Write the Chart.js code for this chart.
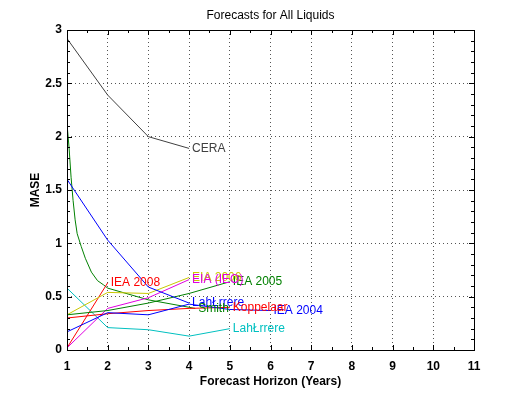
<!DOCTYPE html>
<html>
<head>
<meta charset="utf-8">
<script src="https://cdn.jsdelivr.net/npm/chart.js@4/dist/chart.umd.min.js"></script>
<style>
  html, body { margin: 0; padding: 0; background: #fff; }
  #wrap { width: 524px; height: 394px; }
</style>
</head>
<body>
<div id="wrap"><canvas id="c" width="524" height="394"></canvas></div>
<script>
// ---- Data ----
const ceraX = [1, 2, 3, 4];
const ceraY = [2.92, 2.39, 2.0, 1.89];

const smithX = [1, 1.05, 1.1, 1.15, 1.2, 1.25, 1.35, 1.45, 1.6, 1.75, 1.9, 2, 3, 4.15];
const smithY = [2.12, 1.9, 1.62, 1.40, 1.22, 1.09, 0.97, 0.86, 0.73, 0.65, 0.61, 0.58, 0.47, 0.39];

const laherrereX = [1, 2, 3, 4];
const laherrereY = [1.6, 1.03, 0.59, 0.44];

const iea2004X = [1, 2, 3, 4, 5, 6];
const iea2004Y = [0.17, 0.35, 0.33, 0.43, 0.38, 0.37];

const koppelaarX = [1, 2, 3, 4, 5];
const koppelaarY = [0.30, 0.34, 0.37, 0.39, 0.40];

const iea2008X = [1, 2];
const iea2008Y = [0.02, 0.63];

const eiaIeoX = [1, 2, 3, 4];
const eiaIeoY = [0.02, 0.39, 0.49, 0.66];

const eia2006X = [1, 2, 3, 4];
const eia2006Y = [0.33, 0.54, 0.53, 0.68];

const iea2005X = [1, 2, 3, 4, 5];
const iea2005Y = [0.33, 0.37, 0.44, 0.53, 0.64];

const laherrere2X = [1, 2, 3, 4, 5];
const laherrere2Y = [0.58, 0.21, 0.19, 0.13, 0.20];

const xTicks = [1, 2, 3, 4, 5, 6, 7, 8, 9, 10, 11];
const yTicks = [0, 0.5, 1, 1.5, 2, 2.5, 3];

function pts(xs, ys) { return xs.map((x, i) => ({ x: x, y: ys[i] })); }

const seriesDefs = [
  { label: 'CERA', x: ceraX, y: ceraY, color: '#404040' },
  { label: 'Laherrere', x: laherrereX, y: laherrereY, color: '#0000ff', text: 'LahŁrrere' },
  { label: 'IEA 2004', x: iea2004X, y: iea2004Y, color: '#0000ff' },
  { label: 'Koppelaar', x: koppelaarX, y: koppelaarY, color: '#ff0000' },
  { label: 'IEA 2005', x: iea2005X, y: iea2005Y, color: '#008000' },
  { label: 'EIA 2006', x: eia2006X, y: eia2006Y, color: '#c8c800' },
  { label: 'EIA (IEO)', x: eiaIeoX, y: eiaIeoY, color: '#e000e0' },
  { label: 'IEA 2008', x: iea2008X, y: iea2008Y, color: '#ff0000' },
  { label: 'Smith', x: smithX, y: smithY, color: '#008000' },
  { label: 'Laherrere ', x: laherrere2X, y: laherrere2Y, color: '#00c0c0', text: 'LahŁrrere' }
];

const datasets = seriesDefs.map(s => ({
  label: s.label,
  endText: s.text || s.label.trim(),
  data: pts(s.x, s.y),
  borderColor: s.color,
  backgroundColor: s.color,
  borderWidth: 1,
  pointRadius: 0,
  tension: 0,
  fill: false
}));

// Frame, inward ticks and end-of-line labels
const decor = {
  id: 'decor',
  afterDatasetsDraw(chart) {
    const ctx = chart.ctx;
    const a = chart.chartArea;
    const xs = chart.scales.x, ys = chart.scales.y;
    ctx.save();
    ctx.strokeStyle = '#000';
    ctx.lineWidth = 1;
    ctx.setLineDash([]);
    ctx.beginPath();
    for (let i = 0; i < xTicks.length; i++) {
      const px = Math.round(xs.getPixelForValue(xTicks[i])) + 0.5;
      ctx.moveTo(px, a.bottom); ctx.lineTo(px, a.bottom - 5);
      ctx.moveTo(px, a.top); ctx.lineTo(px, a.top + 5);
      if (i < xTicks.length - 1) {
        const m = Math.round(xs.getPixelForValue((xTicks[i] + xTicks[i + 1]) / 2)) + 0.5;
        ctx.moveTo(m, a.bottom); ctx.lineTo(m, a.bottom - 3);
        ctx.moveTo(m, a.top); ctx.lineTo(m, a.top + 3);
      }
    }
    for (let i = 0; i < yTicks.length; i++) {
      const py = Math.round(ys.getPixelForValue(yTicks[i])) + 0.5;
      ctx.moveTo(a.left, py); ctx.lineTo(a.left + 5, py);
      ctx.moveTo(a.right, py); ctx.lineTo(a.right - 5, py);
      if (i < yTicks.length - 1) {
        const step = (yTicks[i + 1] - yTicks[i]) / 5;
        for (let k = 1; k < 5; k++) {
          const m = Math.round(ys.getPixelForValue(yTicks[i] + k * step)) + 0.5;
          ctx.moveTo(a.left, m); ctx.lineTo(a.left + 3, m);
          ctx.moveTo(a.right, m); ctx.lineTo(a.right - 3, m);
        }
      }
    }
    ctx.stroke();
    ctx.strokeRect(Math.round(a.left) + 0.5, Math.round(a.top) + 0.5,
                   Math.round(a.right - a.left), Math.round(a.bottom - a.top));

    ctx.font = '12px "Liberation Sans", Arial, sans-serif';
    ctx.textBaseline = 'middle';
    ctx.textAlign = 'left';
    chart.data.datasets.forEach(ds => {
      const last = ds.data[ds.data.length - 1];
      const px = xs.getPixelForValue(last.x);
      const py = ys.getPixelForValue(last.y);
      ctx.fillStyle = ds.borderColor;
      ctx.fillText(ds.endText, px + 3, py);
    });
    ctx.restore();
  }
};

const fontFam = '"Liberation Sans", Arial, sans-serif';

new Chart(document.getElementById('c'), {
  type: 'line',
  data: { datasets: datasets },
  options: {
    responsive: false,
    animation: false,
    devicePixelRatio: 1,
    layout: { padding: { left: 0, right: 50, top: 0, bottom: 0 } },
    plugins: {
      legend: { display: false },
      tooltip: { enabled: false },
      title: {
        display: true,
        fullSize: false,
        text: 'Forecasts for All Liquids',
        color: '#000',
        font: { family: fontFam, size: 12, weight: 'normal' },
        padding: { top: 8, bottom: 7.6 }
      }
    },
    scales: {
      x: {
        type: 'linear',
        min: 1, max: 11,
        afterFit(scale) { scale.height = 44; },
        ticks: {
          stepSize: 1,
          padding: 9,
          color: '#000',
          callback: v => String(v),
          font: { family: fontFam, size: 12, weight: 'bold' }
        },
        grid: { color: '#555', drawTicks: false, tickLength: 0 },
        border: { display: false, dash: [1, 3] },
        title: {
          display: true,
          text: 'Forecast Horizon (Years)',
          color: '#000',
          font: { family: fontFam, size: 12, weight: 'bold' },
          padding: { top: 0, bottom: 5 }
        }
      },
      y: {
        type: 'linear',
        min: 0, max: 3,
        afterFit(scale) { scale.width = 67; },
        ticks: {
          stepSize: 0.5,
          padding: 5,
          color: '#000',
          callback: v => String(v),
          font: { family: fontFam, size: 12, weight: 'bold' }
        },
        grid: { color: '#555', drawTicks: false, tickLength: 0 },
        border: { display: false, dash: [1, 3] },
        title: {
          display: true,
          text: 'MASE',
          color: '#000',
          font: { family: fontFam, size: 12, weight: 'bold' },
          padding: { top: 28, bottom: 0 }
        }
      }
    }
  },
  plugins: [decor]
});
</script>
</body>
</html>
